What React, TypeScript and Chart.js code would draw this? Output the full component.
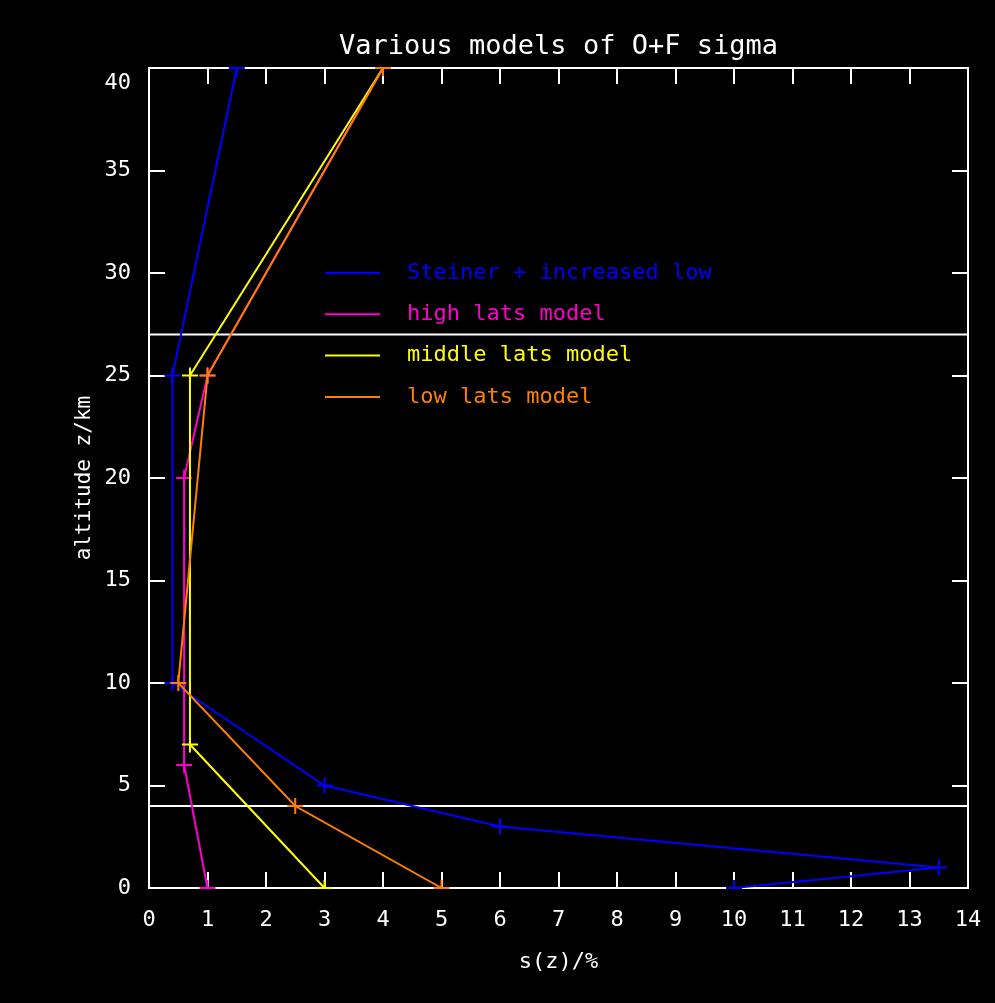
import React, { useEffect, useRef } from 'react';
import { Chart, registerables } from 'chart.js';

Chart.register(...registerables);

// ---- data ----
const steinerS = [1.5, 0.4, 0.4, 3, 6, 13.5, 10];
const steinerZ = [40, 25, 10, 5, 3, 1, 0];
const highS = [4, 1, 0.6, 0.6, 1];
const highZ = [40, 25, 20, 6, 0];
const middleS = [4, 0.7, 0.7, 3];
const middleZ = [40, 25, 7, 0];
const lowS = [4, 1, 0.5, 2.5, 5];
const lowZ = [40, 25, 10, 4, 0];
const refLevels = [27, 4];
const seriesLabels = ['Steiner + increased low', 'high lats model', 'middle lats model', 'low lats model'];
const seriesColors = ['#0000ff', '#ff00cc', '#ffff00', '#ff8000'];
const xMin = 0, xMax = 14, xStep = 1;
const yMin = 0, yMax = 40, yStep = 5;

const FONT = "'DejaVu Sans Mono', monospace";

const pts = (s: number[], z: number[]) => s.map((v, i) => ({ x: v, y: z[i] }));

const framePlugin = {
  id: 'frame',
  beforeDraw(chart: any) {
    const { ctx, width, height } = chart;
    ctx.save();
    ctx.fillStyle = '#000';
    ctx.fillRect(0, 0, width, height);
    ctx.restore();
    // nudge the top y label down, as in the original plot
    const y = chart.scales.y;
    const items = y.getLabelItems(chart.chartArea);
    if (items && items.length) {
      const last = items[items.length - 1];
      if (last && last.options && last.options.translation && !last._nudged) {
        last.options.translation = [last.options.translation[0], last.options.translation[1] + 15];
        last._nudged = true;
      }
    }
  },
  beforeDatasetsDraw(chart: any) {
    const { ctx, chartArea, scales } = chart;
    const { left, right, top, bottom } = chartArea;
    const x = scales.x, y = scales.y;
    const len = 16;
    ctx.save();
    ctx.strokeStyle = '#ffffff';
    ctx.lineWidth = 2;
    ctx.strokeRect(left, top, right - left, bottom - top);
    ctx.beginPath();
    x.ticks.forEach((t: any) => {
      const px = Math.round(x.getPixelForValue(t.value));
      ctx.moveTo(px, bottom);
      ctx.lineTo(px, bottom - len);
      ctx.moveTo(px, top);
      ctx.lineTo(px, top + len);
    });
    y.ticks.forEach((t: any) => {
      const py = Math.round(y.getPixelForValue(t.value));
      ctx.moveTo(left, py);
      ctx.lineTo(left + len, py);
      ctx.moveTo(right, py);
      ctx.lineTo(right - len, py);
    });
    ctx.stroke();
    ctx.restore();
  },
};

const legendPlugin = {
  id: 'innerLegend',
  afterDatasetsDraw(chart: any, _args: any, opts: any) {
    const { ctx } = chart;
    const items = chart.data.datasets.filter((d: any) => d.isSeries);
    ctx.save();
    ctx.font = `22px ${FONT}`;
    ctx.textBaseline = 'middle';
    ctx.textAlign = 'left';
    items.forEach((d: any, i: number) => {
      const yy = opts.y0 + i * opts.rowGap;
      ctx.strokeStyle = d.borderColor;
      ctx.lineWidth = 2;
      ctx.beginPath();
      ctx.moveTo(opts.lineX0, yy);
      ctx.lineTo(opts.lineX1, yy);
      ctx.stroke();
      ctx.fillStyle = d.borderColor;
      ctx.fillText(d.label, opts.textX, yy);
    });
    ctx.restore();
  },
};

export default function App() {
  const ref = useRef<HTMLCanvasElement | null>(null);

  useEffect(() => {
    document.body.style.margin = '0';
    document.body.style.background = '#000';
    const canvas = ref.current;
    if (!canvas) return;

    const seriesData = [pts(steinerS, steinerZ), pts(highS, highZ), pts(middleS, middleZ), pts(lowS, lowZ)];
    const seriesSets = seriesData.map((data, i) => ({
      label: seriesLabels[i],
      isSeries: true,
      data,
      borderColor: seriesColors[i],
      backgroundColor: seriesColors[i],
      borderWidth: 2,
      pointStyle: 'cross',
      pointRadius: 8,
      pointBorderWidth: 2,
      pointBorderColor: seriesColors[i],
      fill: false,
      tension: 0,
      clip: 1,
      order: 4 - i,
    }));
    const refSets = refLevels.map((lv) => ({
      label: '',
      isSeries: false,
      data: [{ x: xMin, y: lv }, { x: xMax, y: lv }],
      borderColor: '#ffffff',
      borderWidth: 2,
      pointRadius: 0,
      fill: false,
      clip: 0,
      order: 10,
    }));

    const chart = new Chart(canvas, {
      type: 'line',
      data: { datasets: [...seriesSets, ...refSets] as any },
      options: {
        responsive: false,
        animation: false,
        devicePixelRatio: 1,
        layout: { padding: { left: 0, right: 27, top: 0, bottom: 0 } },
        plugins: {
          legend: { display: false },
          tooltip: { enabled: false },
          title: {
            display: true,
            fullSize: false,
            text: 'Various models of O+F sigma',
            color: '#ffffff',
            font: { family: FONT, size: 27, weight: 'normal' },
            padding: { top: 31, bottom: 68 - 31 - 32.4 },
          },
          innerLegend: { lineX0: 325, lineX1: 380, textX: 407, y0: 273, rowGap: 41.3 },
        } as any,
        scales: {
          x: {
            type: 'linear',
            min: xMin,
            max: xMax,
            grid: { display: false, drawTicks: false },
            border: { display: false },
            ticks: {
              stepSize: xStep,
              color: '#ffffff',
              font: { family: FONT, size: 22 },
              padding: 19,
              maxRotation: 0,
            },
            title: {
              display: true,
              text: 's(z)/%',
              color: '#ffffff',
              font: { family: FONT, size: 22 },
              padding: { top: 0, bottom: 28 },
            },
            afterFit: (s: any) => { s.height = 115; s.paddingLeft = 0; s.paddingRight = 0; },
          },
          y: {
            type: 'linear',
            min: yMin,
            max: yMax,
            grid: { display: false, drawTicks: false },
            border: { display: false },
            ticks: {
              stepSize: yStep,
              color: '#ffffff',
              font: { family: FONT, size: 22 },
              padding: 18,
            },
            title: {
              display: true,
              text: 'altitude z/km',
              color: '#ffffff',
              font: { family: FONT, size: 21 },
              padding: { top: 72, bottom: 0 },
            },
            afterFit: (s: any) => { s.width = 149; s.paddingTop = 0; s.paddingBottom = 0; },
          },
        },
      },
      plugins: [framePlugin, legendPlugin],
    });
    return () => chart.destroy();
  }, []);

  return <canvas ref={ref} width={995} height={1003} style={{ display: 'block' }} />;
}
